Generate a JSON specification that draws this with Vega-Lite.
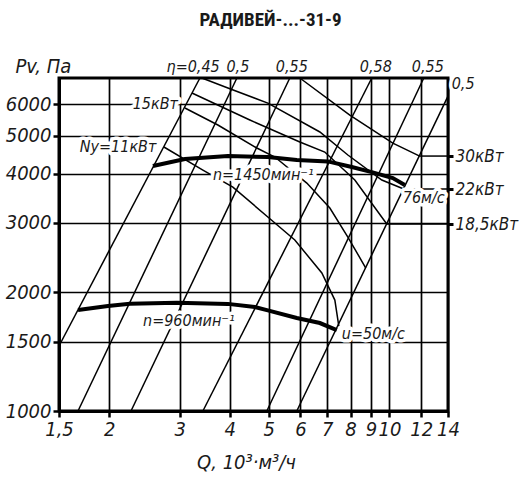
{
  "$schema": "https://vega.github.io/schema/vega-lite/v6.json",
  "width": 389,
  "height": 333,
  "autosize": {"type": "none"},
  "padding": {"left": 59, "top": 78, "right": 71, "bottom": 68},
  "background": "white",
  "title": {"text": "РАДИВЕЙ-...-31-9", "font": "Roboto Condensed, Open Sans Condensed, DejaVu Sans Condensed, Liberation Sans, sans-serif", "fontSize": 19, "fontWeight": "bold", "color": "#1a1a1a", "anchor": "middle", "dx": 17, "offset": 26},
  "config": {
    "view": {"stroke": "black", "strokeWidth": 3},
    "axis": {
      "domainColor": "black", "domainWidth": 3,
      "tickColor": "black", "tickWidth": 2.5, "tickSize": 6,
      "gridColor": "black", "gridWidth": 1.7, "gridOpacity": 1,
      "labelFont": "DejaVu Sans Condensed, Liberation Sans, sans-serif", "labelFontSize": 20, "labelFontStyle": "italic", "labelColor": "#1a1a1a",
      "titleFont": "DejaVu Sans Condensed, Liberation Sans, sans-serif", "titleFontSize": 20, "titleFontStyle": "italic", "titleFontWeight": "normal", "titleColor": "#1a1a1a",
      "labelPadding": 2, "labelOverlap": false, "labelFlush": false
    }
  },
  "datasets": {
    "lines": [
      {"id": "n1450", "kind": "curve", "q": 2.572, "p": 4184},
      {"id": "n1450", "kind": "curve", "q": 3.091, "p": 4359},
      {"id": "n1450", "kind": "curve", "q": 3.956, "p": 4436},
      {"id": "n1450", "kind": "curve", "q": 4.976, "p": 4411},
      {"id": "n1450", "kind": "curve", "q": 5.876, "p": 4334},
      {"id": "n1450", "kind": "curve", "q": 7.022, "p": 4300},
      {"id": "n1450", "kind": "curve", "q": 8.059, "p": 4160},
      {"id": "n1450", "kind": "curve", "q": 9.038, "p": 4040},
      {"id": "n1450", "kind": "curve", "q": 10.197, "p": 3901},
      {"id": "n1450", "kind": "curve", "q": 10.924, "p": 3745},
      {"id": "n960", "kind": "curve", "q": 1.673, "p": 1804},
      {"id": "n960", "kind": "curve", "q": 1.987, "p": 1847},
      {"id": "n960", "kind": "curve", "q": 2.255, "p": 1872},
      {"id": "n960", "kind": "curve", "q": 2.952, "p": 1882},
      {"id": "n960", "kind": "curve", "q": 3.956, "p": 1870},
      {"id": "n960", "kind": "curve", "q": 4.618, "p": 1836},
      {"id": "n960", "kind": "curve", "q": 4.976, "p": 1800},
      {"id": "n960", "kind": "curve", "q": 5.876, "p": 1722},
      {"id": "n960", "kind": "curve", "q": 6.708, "p": 1672},
      {"id": "n960", "kind": "curve", "q": 7.393, "p": 1605},
      {"id": "etaA", "kind": "eta", "q": 1.5, "p": 1462},
      {"id": "etaA", "kind": "eta", "q": 3.369, "p": 7000},
      {"id": "etaB", "kind": "eta", "q": 1.673, "p": 1000},
      {"id": "etaB", "kind": "eta", "q": 4.166, "p": 7000},
      {"id": "etaC", "kind": "eta", "q": 2.268, "p": 1000},
      {"id": "etaC", "kind": "eta", "q": 5.645, "p": 7000},
      {"id": "etaD", "kind": "eta", "q": 3.427, "p": 1000},
      {"id": "etaD", "kind": "eta", "q": 9.038, "p": 7000},
      {"id": "etaE", "kind": "eta", "q": 4.947, "p": 1000},
      {"id": "etaE", "kind": "eta", "q": 12.182, "p": 7000},
      {"id": "etaF", "kind": "eta", "q": 5.876, "p": 1000},
      {"id": "etaF", "kind": "eta", "q": 14, "p": 6299},
      {"id": "N30", "kind": "power", "q": 5.979, "p": 7000},
      {"id": "N30", "kind": "power", "q": 7.967, "p": 5637},
      {"id": "N30", "kind": "power", "q": 10.197, "p": 4786},
      {"id": "N30", "kind": "power", "q": 11.9, "p": 4436},
      {"id": "N22", "kind": "power", "q": 3.407, "p": 7000},
      {"id": "N22", "kind": "power", "q": 3.956, "p": 6600},
      {"id": "N22", "kind": "power", "q": 4.976, "p": 6046},
      {"id": "N22", "kind": "power", "q": 6.708, "p": 5106},
      {"id": "N22", "kind": "power", "q": 7.878, "p": 4463},
      {"id": "N22", "kind": "power", "q": 9.574, "p": 3856},
      {"id": "N22", "kind": "power", "q": 10.86, "p": 3659},
      {"id": "N18", "kind": "power", "q": 3.218, "p": 6411},
      {"id": "N18", "kind": "power", "q": 4.488, "p": 5475},
      {"id": "N18", "kind": "power", "q": 5.979, "p": 4815},
      {"id": "N18", "kind": "power", "q": 6.9, "p": 4542},
      {"id": "N18", "kind": "power", "q": 8.199, "p": 3856},
      {"id": "N18", "kind": "power", "q": 9.85, "p": 2982},
      {"id": "N15", "kind": "power", "q": 3.091, "p": 5873},
      {"id": "N15", "kind": "power", "q": 3.735, "p": 5318},
      {"id": "N15", "kind": "power", "q": 4.671, "p": 4650},
      {"id": "N15", "kind": "power", "q": 5.18, "p": 4411},
      {"id": "N15", "kind": "power", "q": 6.224, "p": 3788},
      {"id": "N15", "kind": "power", "q": 7.104, "p": 3274},
      {"id": "N15", "kind": "power", "q": 7.878, "p": 2764},
      {"id": "N15", "kind": "power", "q": 8.732, "p": 2306},
      {"id": "N11", "kind": "power", "q": 2.74, "p": 4677},
      {"id": "N11", "kind": "power", "q": 3.427, "p": 4087},
      {"id": "N11", "kind": "power", "q": 4.071, "p": 3701},
      {"id": "N11", "kind": "power", "q": 4.976, "p": 3107},
      {"id": "N11", "kind": "power", "q": 5.809, "p": 2716},
      {"id": "N11", "kind": "power", "q": 6.785, "p": 2240},
      {"id": "N11", "kind": "power", "q": 7.311, "p": 1912},
      {"id": "N11", "kind": "power", "q": 7.479, "p": 1643},
      {"id": "L30", "kind": "leader", "q": 11.9, "p": 4436},
      {"id": "L30", "kind": "leader", "q": 14, "p": 4436},
      {"id": "L22", "kind": "leader", "q": 10.86, "p": 3659},
      {"id": "L22", "kind": "leader", "q": 14, "p": 3659},
      {"id": "L18", "kind": "leader", "q": 9.85, "p": 2982},
      {"id": "L18", "kind": "leader", "q": 14, "p": 2982}
    ],
    "etaLabels": [
      {"text": "η=0,45", "q": 3.24, "p": 7250},
      {"text": "0,5", "q": 4.19, "p": 7250},
      {"text": "0,55", "q": 5.71, "p": 7250},
      {"text": "0,58", "q": 9.25, "p": 7250},
      {"text": "0,55", "q": 12.47, "p": 7250}
    ],
    "notes": [
      {"text": "Ny=11кВт", "q": 1.69, "p": 4677},
      {"text": "15кВт", "q": 2.29, "p": 6010},
      {"text": "n=1450мин⁻¹", "q": 3.63, "p": 3971},
      {"text": "n=960мин⁻¹", "q": 2.43, "p": 1692},
      {"text": "76м/с", "q": 10.8, "p": 3471},
      {"text": "u=50м/с", "q": 7.61, "p": 1569},
      {"text": "0,5", "q": 14.3, "p": 6755}
    ]
  },
  "encoding": {
    "x": {"field": "q", "type": "quantitative", "scale": {"type": "log", "domain": [1.5, 14], "nice": false},
      "axis": {"values": [1.5, 2, 3, 4, 5, 6, 7, 8, 9, 10, 12, 14], "labelExpr": "datum.value == 1.5 ? '1,5' : format(datum.value, 'd')", "grid": true, "title": "Q, 10³·м³/ч", "titleX": 187, "titleY": 57, "titleAlign": "center", "titleBaseline": "alphabetic"}}
  },
  "layer": [
    {
      "data": {"name": "lines"},
      "transform": [{"filter": "datum.kind == 'eta' || datum.kind == 'power'"}],
      "mark": {"type": "line", "color": "black", "strokeWidth": 1.5},
      "encoding": {
        "y": {"field": "p", "type": "quantitative", "scale": {"type": "log", "domain": [1000, 7000], "nice": false},
          "axis": {"orient": "left", "values": [1000, 1500, 2000, 3000, 4000, 5000, 6000], "format": "d", "grid": true, "title": "Pv, Па", "titleAngle": 0, "titleAlign": "left", "titleBaseline": "alphabetic", "titleX": -44, "titleY": -6}},
        "detail": {"field": "id"}
      }
    },
    {
      "data": {"name": "lines"},
      "transform": [{"filter": "datum.kind == 'curve'"}],
      "mark": {"type": "line", "color": "black", "strokeWidth": 4},
      "encoding": {
        "y": {"field": "p", "type": "quantitative", "scale": {"type": "log", "domain": [1000, 7000], "nice": false}, "axis": null},
        "detail": {"field": "id"}
      }
    },
    {
      "data": {"name": "lines"},
      "transform": [{"filter": "datum.kind == 'leader'"}],
      "mark": {"type": "line", "color": "black", "strokeWidth": 1.5},
      "encoding": {
        "y": {"field": "p", "type": "quantitative", "scale": {"type": "log", "domain": [1000, 7000], "nice": false},
          "axis": {"orient": "right", "values": [4436, 3659, 2982], "labelExpr": "datum.value > 4000 ? '30кВт' : datum.value > 3300 ? '22кВт' : '18,5кВт'", "grid": false, "domain": false, "tickSize": 5, "tickWidth": 3, "title": null, "labelFontSize": 17, "labelPadding": 2}},
        "detail": {"field": "id"}
      }
    },
    {
      "data": {"name": "etaLabels"},
      "mark": {"type": "text", "align": "center", "baseline": "alphabetic", "font": "DejaVu Sans Condensed, Liberation Sans, sans-serif", "fontSize": 16, "fontStyle": "italic", "color": "#1a1a1a"},
      "encoding": {
        "y": {"field": "p", "type": "quantitative", "scale": {"type": "log", "domain": [1000, 7000], "nice": false}, "axis": null},
        "text": {"field": "text"}
      }
    },
    {
      "data": {"name": "notes"},
      "mark": {"type": "text", "align": "left", "baseline": "middle", "font": "DejaVu Sans Condensed, Liberation Sans, sans-serif", "fontSize": 16, "fontStyle": "italic", "color": "white", "stroke": "white", "strokeWidth": 7, "strokeJoin": "round"},
      "encoding": {
        "y": {"field": "p", "type": "quantitative", "scale": {"type": "log", "domain": [1000, 7000], "nice": false}, "axis": null},
        "text": {"field": "text"}
      }
    },
    {
      "data": {"name": "notes"},
      "mark": {"type": "text", "align": "left", "baseline": "middle", "font": "DejaVu Sans Condensed, Liberation Sans, sans-serif", "fontSize": 16, "fontStyle": "italic", "color": "#1a1a1a"},
      "encoding": {
        "y": {"field": "p", "type": "quantitative", "scale": {"type": "log", "domain": [1000, 7000], "nice": false}, "axis": null},
        "text": {"field": "text"}
      }
    }
  ],
  "resolve": {"axis": {"y": "independent"}}
}
